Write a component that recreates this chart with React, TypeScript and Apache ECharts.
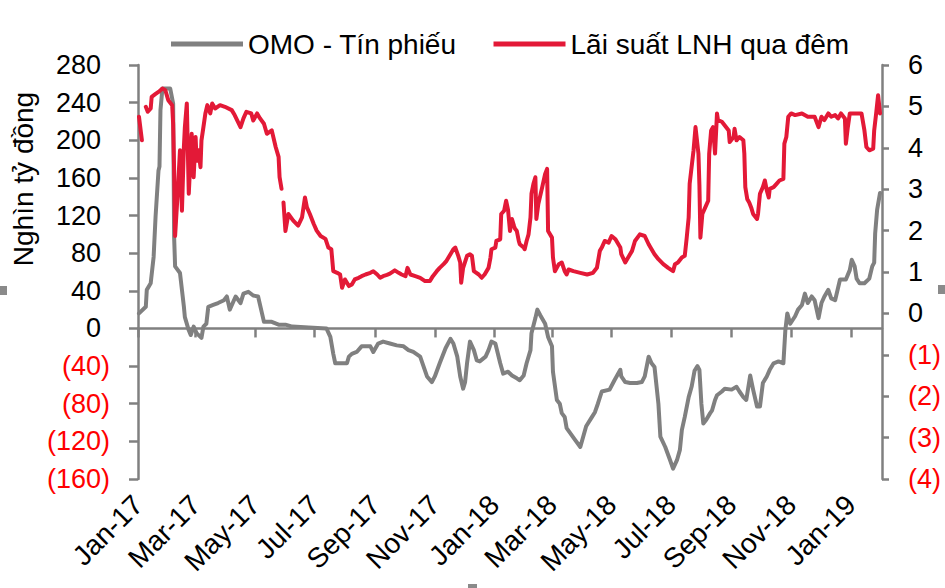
import React, { useEffect, useRef } from 'react';
import * as echarts from 'echarts';

const FONT = '"Liberation Sans", Arial, Helvetica, sans-serif';

const seriesNames = ['OMO - Tín phiếu', 'Lãi suất LNH qua đêm'];

const omoDates = [
  '2017-01-02','2017-01-09','2017-01-10','2017-01-14','2017-01-17','2017-01-19','2017-01-22','2017-01-23','2017-01-24','2017-01-26',
  '2017-02-03','2017-02-06','2017-02-07','2017-02-08','2017-02-13','2017-02-17','2017-02-18','2017-02-22','2017-02-24','2017-02-27',
  '2017-03-02','2017-03-07','2017-03-09','2017-03-12','2017-03-14','2017-03-19','2017-03-24','2017-03-30','2017-04-02','2017-04-05',
  '2017-04-11','2017-04-16','2017-04-19','2017-04-24','2017-04-29','2017-05-04','2017-05-08','2017-05-10','2017-05-18','2017-05-25',
  '2017-06-01','2017-06-08','2017-06-25','2017-07-13','2017-07-17','2017-07-20','2017-07-22','2017-08-03','2017-08-05','2017-08-08',
  '2017-08-13','2017-08-18','2017-08-27','2017-08-30','2017-09-04','2017-09-09','2017-09-16','2017-09-23','2017-09-30','2017-10-05',
  '2017-10-10','2017-10-17','2017-10-20','2017-10-24','2017-10-29','2017-11-01','2017-11-06','2017-11-12','2017-11-17','2017-11-20',
  '2017-11-24','2017-11-27','2017-11-30','2017-12-02','2017-12-04','2017-12-07','2017-12-11','2017-12-14','2017-12-17','2017-12-23',
  '2017-12-26','2017-12-29','2018-01-02','2018-01-07','2018-01-10','2018-01-15','2018-01-19','2018-01-24','2018-01-27','2018-01-31',
  '2018-02-03','2018-02-07','2018-02-08','2018-02-12','2018-02-14','2018-02-17','2018-02-22','2018-02-25','2018-03-01','2018-03-02',
  '2018-03-06','2018-03-09','2018-03-11','2018-03-14','2018-03-16','2018-03-25','2018-03-30','2018-04-05','2018-04-11','2018-04-14',
  '2018-04-17','2018-04-21','2018-04-29','2018-05-04','2018-05-10','2018-05-11','2018-05-15','2018-05-20','2018-05-27','2018-06-01',
  '2018-06-04','2018-06-08','2018-06-11','2018-06-14','2018-06-18','2018-06-20','2018-06-25','2018-06-30','2018-07-03','2018-07-07',
  '2018-07-10','2018-07-12','2018-07-15','2018-07-19','2018-07-22','2018-07-25','2018-07-28','2018-07-30','2018-08-01','2018-08-03',
  '2018-08-06','2018-08-10','2018-08-12','2018-08-15','2018-08-17','2018-08-22','2018-08-25','2018-09-01','2018-09-06','2018-09-09',
  '2018-09-13','2018-09-16','2018-09-20','2018-09-23','2018-09-27','2018-09-30','2018-10-03','2018-10-07','2018-10-10','2018-10-14',
  '2018-10-19','2018-10-24','2018-10-26','2018-10-28','2018-10-31','2018-11-05','2018-11-08','2018-11-12','2018-11-15','2018-11-18',
  '2018-11-22','2018-11-25','2018-11-29','2018-12-02','2018-12-05','2018-12-09','2018-12-12','2018-12-16','2018-12-21','2018-12-27',
  '2018-12-31','2019-01-02','2019-01-05','2019-01-07','2019-01-10','2019-01-15','2019-01-20','2019-01-23','2019-01-25','2019-01-26',
  '2019-01-28','2019-01-31'
];
const omoValues = [
  16, 23, 41, 48, 76, 119, 168, 172, 232, 255,
  255, 239, 97, 66, 59, 23, 12, -2, -7, 2,
  -5, -10, 2, 5, 23, 25, 27, 30, 34, 20,
  34, 27, 37, 39, 35, 34, 16, 7, 7, 4,
  4, 2, 1, 0, -9, -27, -37, -37, -30, -27,
  -25, -19, -19, -25, -16, -14, -16, -18, -19, -23,
  -25, -30, -39, -51, -57, -51, -37, -21, -11, -16,
  -30, -51, -64, -57, -37, -14, -23, -34, -35, -30,
  -23, -14, -16, -37, -48, -46, -50, -53, -55, -50,
  -37, -23, -5, 11, 20, 14, 5, -9, -19, -46,
  -76, -80, -90, -94, -106, -119, -126, -104, -94, -89,
  -80, -67, -65, -55, -44, -51, -57, -58, -58, -57,
  -51, -30, -37, -41, -80, -115, -126, -140, -149, -140,
  -129, -108, -94, -73, -62, -45, -40, -44, -80, -101,
  -97, -90, -87, -76, -71, -67, -64, -65, -62, -67,
  -73, -76, -50, -65, -83, -83, -58, -51, -44, -37,
  -35, -37, -2, 16, 5, 13, 20, 25, 37, 27,
  34, 30, 11, 27, 34, 41, 32, 30, 52, 52,
  62, 73, 66, 53, 48, 48, 53, 66, 70, 101,
  126, 144
];

const rateDates = [
  '2017-01-02','2017-01-05','2017-01-07','2017-01-09','2017-01-11','2017-01-14','2017-01-15','2017-01-19','2017-01-22','2017-01-26',
  '2017-01-29','2017-02-01','2017-02-05','2017-02-06','2017-02-07','2017-02-08','2017-02-11','2017-02-13','2017-02-15','2017-02-17',
  '2017-02-18','2017-02-20','2017-02-22','2017-02-24','2017-02-25','2017-02-27','2017-03-01','2017-03-02','2017-03-04','2017-03-06',
  '2017-03-07','2017-03-09','2017-03-11','2017-03-13','2017-03-16','2017-03-18','2017-03-21','2017-03-26','2017-03-31','2017-04-07',
  '2017-04-10','2017-04-16','2017-04-19','2017-04-22','2017-04-27','2017-04-29','2017-05-03','2017-05-06','2017-05-10','2017-05-13',
  '2017-05-18','2017-05-22','2017-05-25','2017-05-26','2017-05-28','2017-05-29','2017-05-30','2017-06-01','2017-06-04','2017-06-09',
  '2017-06-14','2017-06-18','2017-06-21','2017-06-23','2017-06-26','2017-06-30','2017-07-03','2017-07-07','2017-07-12','2017-07-15',
  '2017-07-18','2017-07-20','2017-07-24','2017-07-27','2017-07-29','2017-08-01','2017-08-05','2017-08-08','2017-08-11','2017-08-15',
  '2017-08-18','2017-08-22','2017-08-27','2017-08-30','2017-09-03','2017-09-06','2017-09-09','2017-09-13','2017-09-16','2017-09-21',
  '2017-09-25','2017-09-28','2017-10-02','2017-10-04','2017-10-07','2017-10-12','2017-10-17','2017-10-22','2017-10-27','2017-10-30',
  '2017-11-03','2017-11-06','2017-11-10','2017-11-13','2017-11-17','2017-11-20','2017-11-22','2017-11-25','2017-11-27','2017-11-28',
  '2017-11-30','2017-12-04','2017-12-07','2017-12-09','2017-12-11','2017-12-16','2017-12-19','2017-12-22','2017-12-26','2017-12-28',
  '2017-12-29','2018-01-02','2018-01-03','2018-01-07','2018-01-08','2018-01-11','2018-01-13','2018-01-15','2018-01-17','2018-01-19',
  '2018-01-21','2018-01-22','2018-01-24','2018-01-26','2018-01-27','2018-01-31','2018-02-01','2018-02-03','2018-02-05','2018-02-07',
  '2018-02-08','2018-02-10','2018-02-12','2018-02-13','2018-02-15','2018-02-19','2018-02-22','2018-02-24','2018-02-25','2018-03-01',
  '2018-03-02','2018-03-04','2018-03-08','2018-03-11','2018-03-14','2018-03-16','2018-03-18','2018-03-23','2018-03-30','2018-04-06',
  '2018-04-12','2018-04-16','2018-04-19','2018-04-21','2018-04-24','2018-04-28','2018-05-01','2018-05-05','2018-05-10','2018-05-11',
  '2018-05-15','2018-05-18','2018-05-22','2018-05-25','2018-05-30','2018-06-04','2018-06-08','2018-06-11','2018-06-14','2018-06-18',
  '2018-06-23','2018-06-28','2018-07-03','2018-07-05','2018-07-08','2018-07-12','2018-07-15','2018-07-17','2018-07-19','2018-07-20',
  '2018-07-24','2018-07-26','2018-07-29','2018-07-30','2018-07-31','2018-08-02','2018-08-05','2018-08-08','2018-08-09','2018-08-11',
  '2018-08-13','2018-08-15','2018-08-17','2018-08-18','2018-08-22','2018-08-25','2018-08-29','2018-08-30','2018-09-03','2018-09-04',
  '2018-09-06','2018-09-09','2018-09-13','2018-09-14','2018-09-15','2018-09-17','2018-09-19','2018-09-21','2018-09-23','2018-09-27',
  '2018-09-28','2018-09-30','2018-10-03','2018-10-05','2018-10-07','2018-10-09','2018-10-10','2018-10-14','2018-10-17','2018-10-20',
  '2018-10-24','2018-10-25','2018-10-27','2018-10-29','2018-11-01','2018-11-05','2018-11-12','2018-11-18','2018-11-25','2018-11-29',
  '2018-12-02','2018-12-05','2018-12-09','2018-12-12','2018-12-16','2018-12-19','2018-12-22','2018-12-26','2018-12-27','2018-12-29',
  '2018-12-31','2019-01-05','2019-01-12','2019-01-15','2019-01-17','2019-01-20','2019-01-24','2019-01-25','2019-01-27','2019-01-29',
  '2019-01-31'
];
const rateValues: (number | null)[] = [
  4.75, 4.18, null, 4.99, 4.87, 4.95, 5.23, 5.3, 5.35, 5.43,
  5.39, 5.15, 5.03, 4.58, 3.45, 1.87, 3.05, 3.94, 2.48, 4.02,
  4.5, 5.07, 2.89, 3.86, 4.34, 3.29, 4.26, 3.69, 3.94, 3.53,
  4.18, 4.5, 4.83, 5.03, 4.83, 5.07, 4.95, 5.03, 4.99, 4.91,
  4.79, 4.5, 4.71, 4.87, 4.83, 4.66, 4.83, 4.71, 4.58, 4.34,
  4.42, 4.02, 3.78, 3.29, 3.01, null, 2.68, 1.99, 2.4, 2.24,
  2.12, 2.32, 2.8, 2.56, 2.4, 2.16, 2.0, 1.87, 1.8, 1.59,
  1.55, 1.02, 0.98, 0.94, 0.62, 0.82, 0.66, 0.7, 0.82, 0.86,
  0.9, 0.94, 0.98, 1.02, 0.94, 0.86, 0.9, 0.93, 0.96, 1.04,
  0.98, 0.94, 0.9, 1.1, 0.94, 0.9, 0.86, 0.78, 0.78, 0.9,
  1.02, 1.1, 1.19, 1.27, 1.43, 1.55, 1.59, 1.39, 1.23, 0.74,
  1.1, 1.39, 1.43, 1.39, 1.02, 0.94, 0.86, 0.94, 1.1, 1.35,
  1.55, 1.59, 1.75, 1.79, 2.4, 2.48, 2.72, 2.5, 1.99, 2.28,
  2.12, 2.05, 1.99, 1.75, 1.67, 1.59, 1.55, 1.75, 1.91, 2.32,
  2.89, 3.13, 3.29, 2.28, 2.64, 3.05, 3.37, 3.49, 1.99, 1.83,
  1.35, 1.02, 1.19, 1.23, 1.02, 0.94, 1.06, 1.02, 0.98, 0.94,
  0.98, 1.1, 1.51, 1.59, 1.75, 1.71, 1.87, 1.79, 1.59, 1.43,
  1.23, 1.35, 1.51, 1.75, 1.91, 1.87, 1.67, 1.55, 1.43, 1.31,
  1.19, 1.1, 1.02, 1.19, 1.23, 1.35, 1.39, 1.83, 2.32, 3.13,
  3.94, 4.5, 3.86, 3.1, 1.83, 2.4, 2.56, 2.72, 3.86, 4.42,
  4.5, 3.86, 4.83, 4.67, 4.63, 4.54, 4.42, 4.14, 4.26, 4.46,
  4.18, 4.26, 4.18, 3.86, 3.05, 2.76, 2.68, 2.56, 2.4, 2.28,
  2.4, 2.89, 3.05, 3.21, 2.97, 2.8, 3.01, 3.05, 3.13, 3.21,
  3.25, 4.1, 4.26, 4.75, 4.83, 4.79, 4.83, 4.75, 4.75, 4.5,
  4.75, 4.67, 4.83, 4.75, 4.79, 4.71, 4.83, 4.71, 4.1, 4.5,
  4.83, 4.83, 4.83, 4.42, 4.02, 3.94, 3.98, 4.42, 4.83, 5.27,
  4.83
];

const tickDates = [
  '2017-01-01','2017-03-01','2017-05-01','2017-07-01','2017-09-01','2017-11-01',
  '2018-01-01','2018-03-01','2018-05-01','2018-07-01','2018-09-01','2018-11-01','2019-01-01'
];
const tickLabels = [
  'Jan-17','Mar-17','May-17','Jul-17','Sep-17','Nov-17',
  'Jan-18','Mar-18','May-18','Jul-18','Sep-18','Nov-18','Jan-19'
];
const xStart = '2017-01-01';
const xEnd = '2019-02-02';
const yTitle = 'Nghìn tỷ đồng';

const DAY = 86400000;
// day number counted from 1970-01-01 (UTC)
const dn = (s: string) => {
  const [y, m, d] = s.split('-').map(Number);
  return Date.UTC(y, m - 1, d) / DAY;
};

const GRAY = '#808080';
const RED = '#E31937';
const NEG = '#FF0000';

export default function App() {
  const ref = useRef<HTMLDivElement>(null);
  useEffect(() => {
    if (!ref.current) return;
    const chart = echarts.init(ref.current, null, { renderer: 'svg' });
    const tickDn = tickDates.map(dn);
    const labelOf = (v: number) => {
      const i = tickDn.indexOf(v);
      return i >= 0 ? tickLabels[i] : '';
    };
    const fmt = (v: number) => (v < 0 ? `{n|(${-v})}` : `{p|${v}}`);
    const axisLine = { show: true, onZero: false, lineStyle: { color: GRAY, width: 2.5 } };
    chart.setOption({
      animation: false,
      textStyle: { fontFamily: FONT },
      legend: {
        left: 166,
        top: 24,
        icon: 'rect',
        itemWidth: 72,
        itemHeight: 5,
        itemGap: 37,
        textStyle: { fontSize: 28, color: '#000', fontFamily: FONT, lineHeight: 30 },
        data: seriesNames,
      },
      grid: { left: 138, right: 63, top: 65, bottom: 109 },
      xAxis: [
        {
          type: 'value',
          position: 'bottom',
          min: dn(xStart),
          max: dn(xEnd),
          axisLine: { show: false, onZero: false },
          axisTick: { show: false },
          splitLine: { show: false },
          axisLabel: {
            customValues: tickDn,
            formatter: labelOf,
            rotate: 45,
            align: 'right',
            verticalAlign: 'middle',
            margin: 21,
            fontSize: 28,
            color: '#000',
            fontFamily: FONT,
            hideOverlap: false,
            showMinLabel: true,
            showMaxLabel: true,
          },
        },
        {
          type: 'value',
          position: 'top',
          min: dn(xStart),
          max: dn(xEnd),
          axisLine: { show: true, onZero: true, onZeroAxisIndex: 0, lineStyle: { color: GRAY, width: 2.5 } },
          axisTick: { show: true, inside: true, length: 9, customValues: tickDn, lineStyle: { color: GRAY, width: 2.5 } },
          axisLabel: { show: false },
          splitLine: { show: false },
        },
      ],
      yAxis: [
        {
          type: 'value',
          position: 'left',
          min: -160,
          max: 280,
          interval: 40,
          axisLine,
          axisTick: { show: true, length: 9, lineStyle: { color: GRAY, width: 2.5 } },
          splitLine: { show: false },
          axisLabel: {
            margin: 28,
            formatter: fmt,
            rich: {
              n: { color: NEG, fontSize: 27, fontFamily: FONT },
              p: { color: '#000', fontSize: 27, fontFamily: FONT, padding: [0, 9, 0, 0] },
            },
          },
        },
        {
          type: 'value',
          position: 'right',
          min: -4,
          max: 6,
          interval: 1,
          axisLine,
          axisTick: { show: true, length: 7, lineStyle: { color: GRAY, width: 2.5 } },
          splitLine: { show: false },
          axisLabel: {
            margin: 26,
            formatter: fmt,
            rich: {
              n: { color: NEG, fontSize: 27, fontFamily: FONT },
              p: { color: '#000', fontSize: 27, fontFamily: FONT },
            },
          },
        },
      ],
      series: [
        {
          name: seriesNames[0],
          type: 'line',
          xAxisIndex: 0,
          yAxisIndex: 0,
          showSymbol: false,
          symbol: 'none',
          color: GRAY,
          lineStyle: { color: GRAY, width: 4, cap: 'round', join: 'round' },
          data: omoDates.map((d, i) => [dn(d), omoValues[i]]),
        },
        {
          name: seriesNames[1],
          type: 'line',
          xAxisIndex: 0,
          yAxisIndex: 1,
          showSymbol: false,
          symbol: 'none',
          connectNulls: false,
          color: RED,
          lineStyle: { color: RED, width: 4, cap: 'round', join: 'round' },
          data: rateDates.map((d, i) => [dn(d), rateValues[i] === null ? '-' : rateValues[i]]),
        },
      ],
      graphic: [
        {
          type: 'text',
          x: 23,
          y: 179,
          rotation: Math.PI / 2,
          style: {
            text: yTitle,
            font: `28px ${FONT}`,
            fill: '#000',
            align: 'center',
            verticalAlign: 'middle',
          },
        },
        { type: 'rect', shape: { x: 0, y: 286, width: 7, height: 9 }, style: { fill: '#8a8a8a' } },
        { type: 'rect', shape: { x: 938, y: 285, width: 7, height: 9 }, style: { fill: '#8a8a8a' } },
        { type: 'rect', shape: { x: 468, y: 584, width: 9, height: 4 }, style: { fill: '#8a8a8a' } },
      ],
    });
    return () => chart.dispose();
  }, []);
  return (
    <div
      ref={ref}
      style={{ position: 'absolute', left: 0, top: 0, width: 945, height: 588, background: '#fff' }}
    />
  );
}
